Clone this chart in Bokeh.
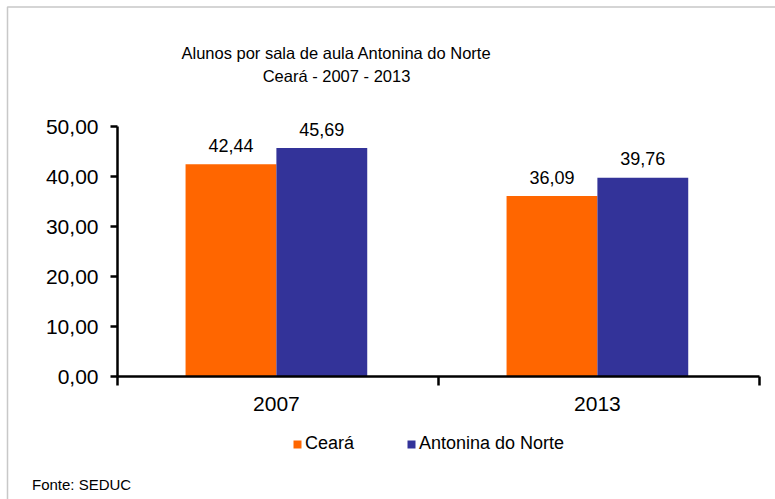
from bokeh.plotting import figure
from bokeh.models import (Range1d, FixedTicker, ColumnDataSource, Legend, LegendItem,
                          Label, BoxAnnotation)
from bokeh.embed import file_html
from bokeh.resources import INLINE
from bokeh.core.properties import value

# ---- data ----
years = ["2007", "2013"]
ceara = [42.44, 36.09]
antonina = [45.69, 39.76]
series_names = ["Ceará", "Antonina do Norte"]
colors = ["#FF6600", "#333399"]
y_ticks = [0, 10, 20, 30, 40, 50]
title_lines = ["Alunos por sala de aula Antonina do Norte", "Ceará - 2007 - 2013"]
source_note = "Fonte: SEDUC"

FONT = "Liberation Sans"
W, H = 775, 499
# plot-area placement in pixels (frame spans the whole canvas; axes are pinned)
PX_LEFT, PX_RIGHT, PX_TOP, PX_BOTTOM = 117, 759, 126, 376
YMAX = 50
n = len(years)

def fmt(v):
    return f"{v:.2f}".replace(".", ",")

xs_per_px = n / (PX_RIGHT - PX_LEFT)
ys_per_px = YMAX / (PX_BOTTOM - PX_TOP)
x_range = Range1d(-PX_LEFT * xs_per_px, (W - PX_LEFT) * xs_per_px)
y_range = Range1d(-(H - PX_BOTTOM) * ys_per_px, PX_BOTTOM * ys_per_px)

def px_to_x(px):
    return (px - PX_LEFT) * xs_per_px

def py_to_y(py):
    return (PX_BOTTOM - py) * ys_per_px

centers = [i + 0.495 for i in range(n)]
bw = 0.283
off = 0.1415

p = figure(width=W, height=H, output_backend="svg", toolbar_location=None,
           x_range=x_range, y_range=y_range, min_border=0)
p.title.visible = False
p.outline_line_color = None
p.xgrid.grid_line_color = None
p.ygrid.grid_line_color = None
p.background_fill_color = "white"
p.border_fill_color = "white"

src_c = ColumnDataSource(dict(x=[c - off for c in centers], top=ceara,
                              lab=[fmt(v) for v in ceara]))
src_a = ColumnDataSource(dict(x=[c + off for c in centers], top=antonina,
                              lab=[fmt(v) for v in antonina]))

r1 = p.vbar(x="x", top="top", width=bw, source=src_c, fill_color=colors[0],
            line_color=None)
r2 = p.vbar(x="x", top="top", width=bw, source=src_a, fill_color=colors[1],
            line_color=None)

for s in (src_c, src_a):
    p.text(x="x", y="top", text="lab", source=s, text_align="center",
           text_baseline="alphabetic", y_offset=-19, text_font=value(FONT),
           text_font_size="18px", text_color="black")

# y axis (pinned at x = 0)
ya = p.yaxis[0]
ya.fixed_location = 0
ya.bounds = (0, YMAX)
ya.ticker = FixedTicker(ticks=y_ticks, minor_ticks=[])
ya.major_label_overrides = {t: fmt(t) for t in y_ticks}
ya.major_label_text_font = FONT
ya.major_label_text_font_size = "21px"
ya.major_label_text_color = "black"
ya.axis_line_width = 2.5
ya.axis_line_color = "black"
ya.major_tick_line_width = 2.5
ya.major_tick_line_color = "black"
ya.major_tick_in = 0
ya.major_tick_out = 7
ya.major_label_standoff = 12

# x axis (pinned at y = 0)
xa = p.xaxis[0]
xa.fixed_location = 0
xa.bounds = (0, n)
xa.ticker = FixedTicker(ticks=centers, minor_ticks=list(range(n + 1)))
xa.major_label_overrides = {c: y for c, y in zip(centers, years)}
xa.major_label_text_font = FONT
xa.major_label_text_font_size = "21px"
xa.major_label_text_color = "black"
xa.axis_line_width = 2.5
xa.axis_line_color = "black"
xa.major_tick_in = 0
xa.major_tick_out = 0
xa.minor_tick_in = 0
xa.minor_tick_out = 9
xa.minor_tick_line_width = 2.5
xa.minor_tick_line_color = "black"
xa.major_label_standoff = 11

# title lines
for i, (t, py) in enumerate(zip(title_lines, [52, 75])):
    p.add_layout(Label(x=px_to_x(336), y=py_to_y(py), text=t, text_align="center",
                       text_baseline="middle", text_font=FONT,
                       text_font_size="16.5px", text_color="black"))

# source note
p.add_layout(Label(x=px_to_x(31.5), y=py_to_y(484), text=source_note,
                   text_align="left", text_baseline="alphabetic", text_font=FONT,
                   text_font_size="15px", text_color="black"))

# legend
legend = Legend(items=[LegendItem(label=series_names[0], renderers=[r1]),
                       LegendItem(label=series_names[1], renderers=[r2])],
                orientation="horizontal", location=(292, 45),
                padding=0, margin=0, spacing=52, label_standoff=3,
                glyph_width=10, glyph_height=10, label_height=18,
                border_line_color=None, background_fill_alpha=0,
                label_text_font=FONT, label_text_font_size="18px",
                label_text_color="black")
p.add_layout(legend, "center")

# chart-area border (top and left edges visible)
p.add_layout(BoxAnnotation(left=px_to_x(7), right=px_to_x(W + 50),
                           top=py_to_y(6.5), bottom=py_to_y(H + 50),
                           fill_alpha=0, line_color="#4a4a4a", line_width=1.5))

open("out.html", "w").write(file_html(p, INLINE))
